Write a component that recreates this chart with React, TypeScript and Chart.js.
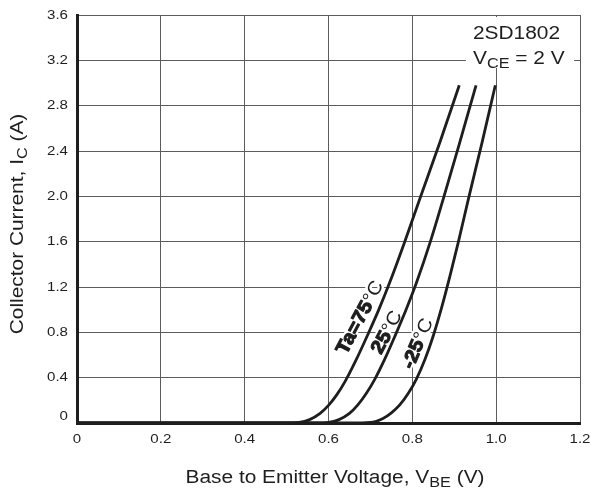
import { useEffect, useRef } from "react";
import { Chart, registerables } from "chart.js";

Chart.register(...registerables);

// Ic vs Vbe curves
const vbeTa75 = [0, 0.5, 0.53, 0.555, 0.58, 0.6, 0.62, 0.64, 0.665, 0.695, 0.72, 0.745, 0.78, 0.819, 0.866, 0.912];
const icTa75 = [0, 0, 0.005, 0.03, 0.085, 0.155, 0.25, 0.37, 0.55, 0.79, 1.0, 1.23, 1.58, 1.99, 2.48, 2.98];

const vbeTa25 = [0, 0.57, 0.6, 0.625, 0.65, 0.67, 0.69, 0.711, 0.735, 0.76, 0.785, 0.81, 0.843, 0.874, 0.912, 0.952];
const icTa25 = [0, 0, 0.005, 0.03, 0.085, 0.16, 0.26, 0.39, 0.57, 0.78, 1.0, 1.24, 1.6, 1.98, 2.46, 2.98];

const vbeTaM25 = [0, 0.65, 0.7, 0.73, 0.75, 0.77, 0.79, 0.81, 0.83, 0.85, 0.87, 0.89, 0.91, 0.934, 0.966, 0.998];
const icTaM25 = [0, 0, 0.005, 0.04, 0.09, 0.16, 0.26, 0.39, 0.56, 0.77, 1.02, 1.3, 1.6, 1.98, 2.47, 2.98];

const xTickValues = [0, 0.2, 0.4, 0.6, 0.8, 1.0, 1.2];
const xTickLabels = ["0", "0.2", "0.4", "0.6", "0.8", "1.0", "1.2"];
const yTickValues = [0, 0.4, 0.8, 1.2, 1.6, 2.0, 2.4, 2.8, 3.2, 3.6];
const yTickLabels = ["0", "0.4", "0.8", "1.2", "1.6", "2.0", "2.4", "2.8", "3.2", "3.6"];

const curveLabels = [
  { main: "Ta=75", v: 0.676, i: 0.93, angle: -62 },
  { main: "25", v: 0.74, i: 0.8, angle: -62 },
  { main: "-25", v: 0.814, i: 0.7, angle: -67 },
];

const FONT = '"Liberation Sans", Arial, Helvetica, sans-serif';
const INK = "#1e1e1e";
const STRETCH = 1.16;

type Part = { text: string; size: number; bold?: boolean; dy?: number; heavy?: number };

function drawParts(
  ctx: CanvasRenderingContext2D,
  parts: Part[],
  x: number,
  y: number,
  opts: { align?: "left" | "center" | "right"; angle?: number; stretch?: number; baseline?: CanvasTextBaseline; halo?: number }
) {
  const { align = "left", angle = 0, stretch = STRETCH, baseline = "alphabetic", halo = 0 } = opts;
  ctx.save();
  ctx.translate(x, y);
  ctx.rotate(angle);
  ctx.scale(stretch, 1);
  ctx.textAlign = "left";
  ctx.textBaseline = baseline;
  ctx.lineJoin = "round";
  const fontOf = (p: Part) => `${p.bold ? "bold " : ""}${p.size}px ${FONT}`;
  let total = 0;
  for (const p of parts) {
    ctx.font = fontOf(p);
    total += ctx.measureText(p.text).width;
  }
  const start = align === "center" ? -total / 2 : align === "right" ? -total : 0;
  if (halo > 0) {
    let cx = start;
    ctx.strokeStyle = "#fff";
    ctx.lineWidth = halo;
    for (const p of parts) {
      ctx.font = fontOf(p);
      ctx.strokeText(p.text, cx, p.dy ?? 0);
      cx += ctx.measureText(p.text).width;
    }
  }
  let cx = start;
  ctx.fillStyle = INK;
  ctx.strokeStyle = INK;
  for (const p of parts) {
    ctx.font = fontOf(p);
    ctx.fillText(p.text, cx, p.dy ?? 0);
    if (p.heavy) {
      ctx.lineWidth = p.heavy;
      ctx.strokeText(p.text, cx, p.dy ?? 0);
    }
    cx += ctx.measureText(p.text).width;
  }
  ctx.restore();
}

const labelsPlugin = {
  id: "datasheetLabels",
  beforeDatasetsDraw(chart: Chart) {
    const ctx = chart.ctx;
    const xs = chart.scales.x;
    const ys = chart.scales.y;
    // white box behind the part number note
    ctx.save();
    ctx.fillStyle = "#fff";
    ctx.fillRect(466, 17, 108, 51);
    ctx.restore();
    drawParts(ctx, [{ text: "2SD1802", size: 18 }], 473, 39, {});
    drawParts(
      ctx,
      [
        { text: "V", size: 18 },
        { text: "CE", size: 14, dy: 4 },
        { text: " = 2 V", size: 18 },
      ],
      473,
      64,
      {}
    );
    for (const l of curveLabels) {
      drawParts(
        ctx,
        [
          { text: l.main, size: 19, bold: true, heavy: 1.1 },
          { text: "°C", size: 19 },
        ],
        xs.getPixelForValue(l.v),
        ys.getPixelForValue(l.i),
        { align: "center", angle: (l.angle * Math.PI) / 180, baseline: "middle", stretch: 1.08, halo: 5 }
      );
    }
  },
  afterDraw(chart: Chart) {
    const ctx = chart.ctx;
    const xs = chart.scales.x;
    const ys = chart.scales.y;
    yTickValues.forEach((v, idx) => {
      const py = ys.getPixelForValue(v) + (v === 0 ? -7 : 0);
      drawParts(ctx, [{ text: yTickLabels[idx], size: 13 }], 68, py, { align: "right", baseline: "middle" });
    });
    xTickValues.forEach((v, idx) => {
      drawParts(ctx, [{ text: xTickLabels[idx], size: 13 }], xs.getPixelForValue(v), 439, {
        align: "center",
        baseline: "middle",
      });
    });
    drawParts(
      ctx,
      [
        { text: "Base to Emitter Voltage, V", size: 18 },
        { text: "BE", size: 14, dy: 4 },
        { text: " (V)", size: 18 },
      ],
      335,
      483,
      { align: "center" }
    );
    drawParts(
      ctx,
      [
        { text: "Collector Current, I", size: 18 },
        { text: "C", size: 14, dy: 4 },
        { text: " (A)", size: 18 },
      ],
      23,
      224,
      { align: "center", angle: -Math.PI / 2 }
    );
  },
};

function toPoints(xs: number[], ys: number[]) {
  return xs.map((x, i) => ({ x, y: ys[i] }));
}

function TransferChart() {
  const canvasRef = useRef<HTMLCanvasElement>(null);
  const chartRef = useRef<Chart | null>(null);

  useEffect(() => {
    if (!canvasRef.current) return;
    const ctx = canvasRef.current.getContext("2d");
    if (!ctx) return;

    if (chartRef.current) {
      chartRef.current.destroy();
    }

    const line = { showLine: true, borderColor: INK, borderWidth: 2.8, pointRadius: 0, cubicInterpolationMode: "monotone" as const };

    chartRef.current = new Chart(ctx, {
      type: "scatter",
      data: {
        datasets: [
          { label: "Ta=75°C", data: toPoints(vbeTa75, icTa75), ...line },
          { label: "25°C", data: toPoints(vbeTa25, icTa25), ...line },
          { label: "-25°C", data: toPoints(vbeTaM25, icTaM25), ...line },
        ],
      },
      options: {
        animation: false,
        responsive: true,
        maintainAspectRatio: false,
        layout: { padding: { top: 15, right: 11, left: 0, bottom: 0 } },
        plugins: {
          legend: { display: false },
          tooltip: { enabled: false },
        },
        scales: {
          x: {
            type: "linear",
            min: 0,
            max: 1.2,
            afterBuildTicks: (scale) => {
              scale.ticks = xTickValues.map((value) => ({ value }));
            },
            afterFit: (scale) => {
              scale.height = 68;
            },
            ticks: { display: false },
            grid: { color: "#5c5c5c", lineWidth: 1, drawTicks: false },
            border: { color: INK, width: 3 },
          },
          y: {
            type: "linear",
            min: 0,
            max: 3.6,
            afterBuildTicks: (scale) => {
              scale.ticks = yTickValues.map((value) => ({ value }));
            },
            afterFit: (scale) => {
              scale.width = 77;
            },
            ticks: { display: false },
            grid: { color: "#5c5c5c", lineWidth: 1, drawTicks: false },
            border: { color: INK, width: 3 },
          },
        },
      },
      plugins: [labelsPlugin],
    });

    return () => {
      if (chartRef.current) {
        chartRef.current.destroy();
        chartRef.current = null;
      }
    };
  }, []);

  return (
    <div style={{ position: "fixed", left: 0, top: 0, width: 591, height: 491, background: "#fff" }}>
      <canvas ref={canvasRef}></canvas>
    </div>
  );
}

export default function App() {
  return <TransferChart />;
}
